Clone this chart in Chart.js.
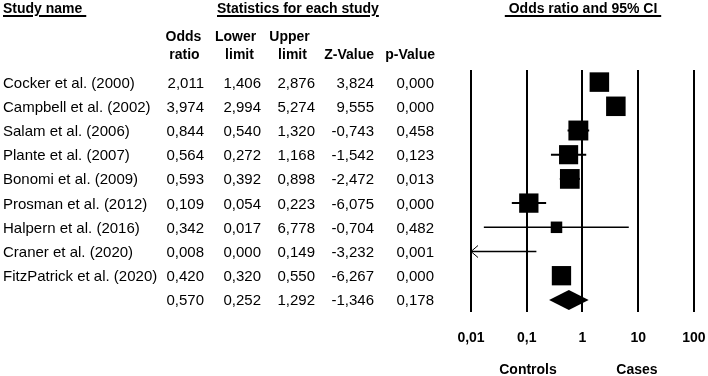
<!DOCTYPE html>
<html>
<head>
<meta charset="utf-8">
<script src="https://cdn.jsdelivr.net/npm/chart.js@4/dist/chart.umd.min.js"></script>
<style>
  html, body { margin: 0; padding: 0; background: #fff; }
  #wrap { position: relative; width: 708px; height: 376px; overflow: hidden; font-family: "Liberation Sans", Arial, sans-serif; color: #000; }
  #plot { position: absolute; left: 0; top: 0; }
  .t { position: absolute; white-space: pre; font-size: 15px; line-height: 15px; }
  .b { font-weight: bold; font-size: 14px; line-height: 14px; }
  .u { text-decoration: underline; text-decoration-thickness: 1.5px; text-underline-offset: 2px; }
</style>
</head>
<body>
<div id="wrap">
  <canvas id="plot" width="708" height="376"></canvas>
</div>
<script>
// study rows
var studies = ["Cocker et al. (2000)", "Campbell et al. (2002)", "Salam et al. (2006)", "Plante et al. (2007)",
  "Bonomi et al. (2009)", "Prosman et al. (2012)", "Halpern et al. (2016)", "Craner et al. (2020)", "FitzPatrick et al. (2020)"];
var oddsRatio = [2.011, 3.974, 0.844, 0.564, 0.593, 0.109, 0.342, 0.008, 0.420];
var lowerLimit = [1.406, 2.994, 0.540, 0.272, 0.392, 0.054, 0.017, 0.000, 0.320];
var upperLimit = [2.876, 5.274, 1.320, 1.168, 0.898, 0.223, 6.778, 0.149, 0.550];
var zValue = [3.824, 9.555, -0.743, -1.542, -2.472, -6.075, -0.704, -3.232, -6.267];
var pValue = [0.000, 0.000, 0.458, 0.123, 0.013, 0.000, 0.482, 0.001, 0.000];
// relative weights (square size)
var weights = [10, 10, 10.2, 9.8, 10.1, 9.9, 5.9, 4, 9.9];

// pooled result
var summary = { or: 0.570, lower: 0.252, upper: 1.292, z: -1.346, p: 0.178 };

var tickValues = [0.01, 0.1, 1, 10, 100];
var tickLabels = ["0,01", "0,1", "1", "10", "100"];

var wrap = document.getElementById('wrap');

function fmt(v) {
    return v.toFixed(3).replace('.', ',');
}

function place(text, x, y, align, cls) {
    var d = document.createElement('div');
    d.className = 't ' + (cls || '');
    d.textContent = text;
    var h = (cls && cls.indexOf('b') > -1) ? 14 : 15;
    d.style.top = (y - h / 2) + 'px';
    if (align == 'right') {
        d.style.right = (708 - x) + 'px';
    } else if (align == 'center') {
        d.style.left = x + 'px';
        d.style.transform = 'translateX(-50%)';
    } else {
        d.style.left = x + 'px';
    }
    wrap.appendChild(d);
    return d;
}

var points = [];
for (var i = 0; i < studies.length; i++) {
    if (oddsRatio[i] >= tickValues[0]) points.push({ x: oddsRatio[i], y: i + 1, w: weights[i] });
}

// confidence intervals, arrows and the pooled diamond
var ciPlugin = {
    id: 'ci',
    beforeDatasetsDraw(chart) {
        let c = chart.ctx;
        let xs = chart.scales.x, ys = chart.scales.y;
        let xMin = xs.min, xMax = xs.max;
        c.save();
        c.strokeStyle = '#000';
        c.fillStyle = '#000';
        for (let i = 0; i < studies.length; i++) {
            let y = ys.getPixelForValue(i + 1);
            let lo = Math.max(lowerLimit[i], xMin);
            let hi = Math.min(upperLimit[i], xMax);
            let x1 = xs.getPixelForValue(lo);
            let x2 = xs.getPixelForValue(hi);
            c.lineWidth = weights[i] < 7 ? 1.5 : 2;
            c.beginPath();
            c.moveTo(x1, y);
            c.lineTo(x2, y);
            c.stroke();
            if (lowerLimit[i] < xMin) {
                c.lineWidth = 1;
                c.beginPath();
                c.moveTo(x1 + 7, y - 6);
                c.lineTo(x1, y);
                c.lineTo(x1 + 7, y + 6);
                c.stroke();
            }
        }
        let yS = ys.getPixelForValue(studies.length + 1);
        c.beginPath();
        c.moveTo(xs.getPixelForValue(summary.lower), yS);
        c.lineTo(xs.getPixelForValue(summary.or), yS - 10);
        c.lineTo(xs.getPixelForValue(summary.upper), yS);
        c.lineTo(xs.getPixelForValue(summary.or), yS + 10);
        c.closePath();
        c.fill();
        c.restore();
    }
};

var chart = new Chart(document.getElementById('plot').getContext('2d'), {
    type: 'scatter',
    data: {
        datasets: [{
            data: points,
            pointStyle: 'rect',
            pointRadius: ctx => ctx.raw ? ctx.raw.w * 1.38 : 0,
            backgroundColor: '#000',
            borderWidth: 0,
            pointHoverRadius: ctx => ctx.raw ? ctx.raw.w * 1.38 : 0
        }]
    },
    options: {
        responsive: false,
        animation: false,
        events: [],
        layout: { padding: { left: 471, right: 13, top: 70, bottom: 0 } },
        plugins: {
            legend: { display: false },
            tooltip: { enabled: false }
        },
        scales: {
            x: {
                type: 'logarithmic',
                min: 0.01,
                max: 100,
                afterBuildTicks: s => { s.ticks = tickValues.map(v => ({ value: v })); },
                afterFit: s => { s.height = 64; s.paddingLeft = 0; s.paddingRight = 0; },
                border: { display: false },
                grid: { color: '#000', lineWidth: 2, drawTicks: false },
                ticks: {
                    callback: (v, i) => tickLabels[i],
                    color: '#000',
                    font: { family: '"Liberation Sans", Arial', size: 14, weight: 'bold' },
                    padding: 18,
                    maxRotation: 0,
                    autoSkip: false
                }
            },
            y: { display: false, min: 0.5, max: 10.5, reverse: true }
        }
    },
    plugins: [ciPlugin]
});

// table on the left
var ys = chart.scales.y;
var colRight = [204, 261, 315, 374, 434];
for (var i = 0; i < studies.length; i++) {
    var y = ys.getPixelForValue(i + 1);
    place(studies[i], 3, y, 'left');
    var vals = [oddsRatio[i], lowerLimit[i], upperLimit[i], zValue[i], pValue[i]];
    for (var k = 0; k < vals.length; k++) place(fmt(vals[k]), colRight[k], y, 'right');
}
var yS = ys.getPixelForValue(studies.length + 1);
[summary.or, summary.lower, summary.upper, summary.z, summary.p].forEach(function (v, k) {
    place(fmt(v), colRight[k], yS, 'right');
});

// headers
place("Study name\u00a0", 3, 8, 'left', 'b u');
place("Statistics for each study", 217, 8, 'left', 'b u');
place("\u00a0Odds ratio and 95% CI\u00a0", 583, 8, 'center', 'b u');
place("Odds", 183.5, 36, 'center', 'b');
place("Lower", 235.5, 36, 'center', 'b');
place("Upper", 289.5, 36, 'center', 'b');
place("ratio", 184.5, 53.5, 'center', 'b');
place("limit", 239.5, 53.5, 'center', 'b');
place("limit", 292.5, 53.5, 'center', 'b');
place("Z-Value", 374, 53.5, 'right', 'b');
place("p-Value", 435, 53.5, 'right', 'b');
place("Controls", 528, 369, 'center', 'b');
place("Cases", 637, 369, 'center', 'b');
</script>
</body>
</html>
